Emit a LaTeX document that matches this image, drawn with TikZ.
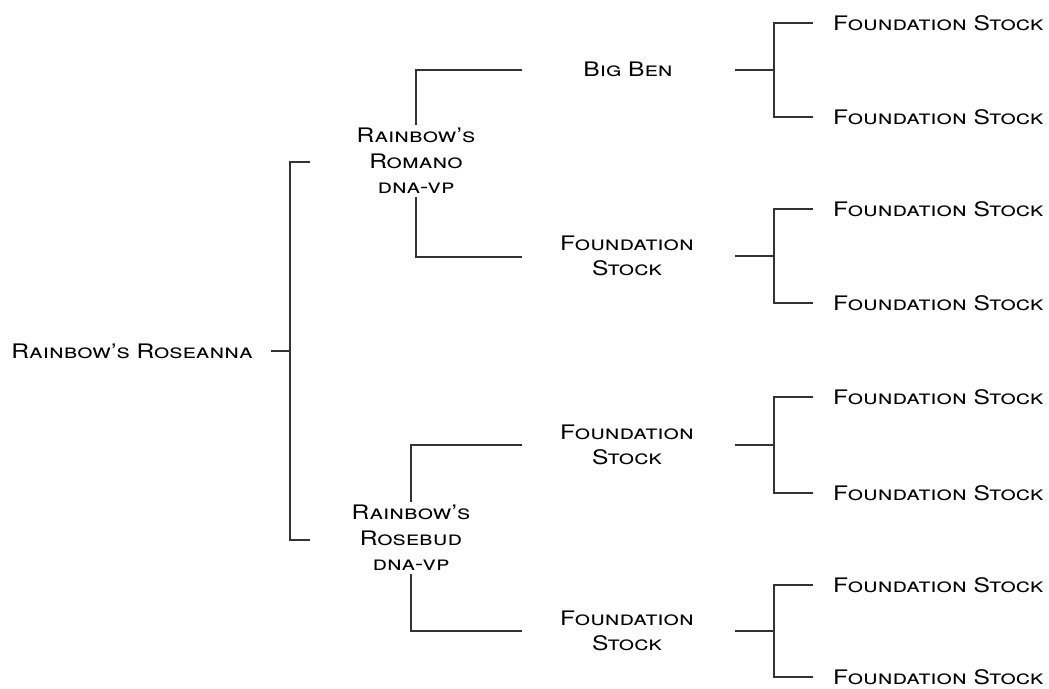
\documentclass[tikz,border=0pt]{standalone}
\usepackage{fontspec}
\setmainfont{TeX Gyre Heros}[Letters=SmallCaps,FakeStretch=1.23]
\usetikzlibrary{calc}
\begin{document}
\begin{tikzpicture}[x=1pt,y=-1pt,line join=miter,font=\fontsize{20}{25.5}\selectfont,
	horse/.style={align=center,inner xsep=0pt,inner ysep=3pt},
	stock/.style={anchor=west,inner xsep=20pt,inner ysep=0pt},
	link/.style={line width=1.3pt,draw=black!80}]
	\useasboundingbox (0,0) rectangle (1049,688);
	% dam herself, sire and dam
	\node[horse] (roseanna) at (132,351) {Rainbow's Roseanna};
	\node[horse] (romano) at (416,161) {Rainbow's\\Romano\\dna-vp};
	\node[horse] (rosebud) at (411,538) {Rainbow's\\Rosebud\\dna-vp};
	% grandparents
	\node[horse] (bigben) at (628,69) {Big Ben};
	\node[horse] (fs2) at (627,256) {Foundation\\Stock};
	\node[horse] (fs3) at (627,445) {Foundation\\Stock};
	\node[horse] (fs4) at (627,631) {Foundation\\Stock};
	% great-grandparents
	\foreach \y [count=\i] in {23,117,209,303,397,493,585,677}
		\node[stock] (g\i) at (813,\y) {Foundation Stock};
	% brackets
	\coordinate (s0) at (271,351); \coordinate (j0) at (290,351);
	\coordinate (b1) at (310,162); \coordinate (b2) at (310,540);
	\draw[link] (roseanna.east -| s0) -- (j0);
	\draw[link] (b1) -| (j0) |- (b2);
	\coordinate (a1) at (522,70); \coordinate (a2) at (522,257);
	\coordinate (a3) at (522,445); \coordinate (a4) at (522,631);
	\draw[link] (romano.north) |- (a1) (romano.south) |- (a2);
	\draw[link] (rosebud.north) |- (a3) (rosebud.south) |- (a4);
	\foreach \k/\a/\b in {1/1/2,2/3/4,3/5/6,4/7/8}{
		\coordinate (q\k) at ($(g\a.west)!0.5!(g\b.west)+(-39,0)$);
		\draw[link] (g\a.west) -| (q\k) |- (g\b.west);
		\draw[link] (q\k) -- ++(-39,0);
	}
\end{tikzpicture}
\end{document}
